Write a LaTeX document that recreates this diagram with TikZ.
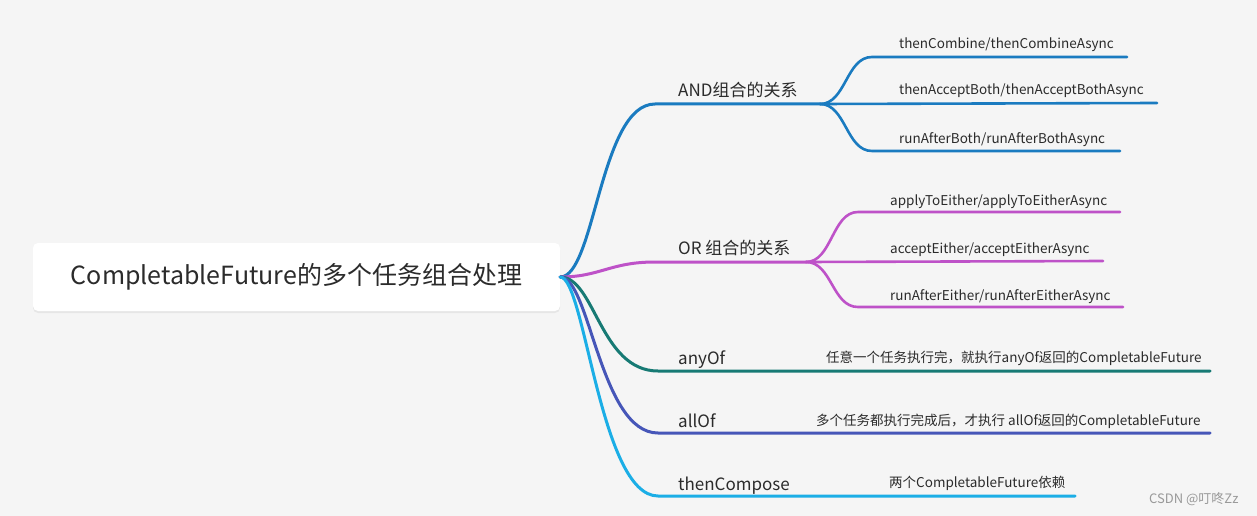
\documentclass[tikz,border=0pt]{standalone}
\usepackage{fontspec}
\setmainfont{Noto Sans CJK SC}
\usetikzlibrary{shadows}
\definecolor{andblue}{HTML}{1A7BC0}
\definecolor{ormag}{HTML}{BE52C8}
\definecolor{anyteal}{HTML}{177A74}
\definecolor{allind}{HTML}{4656B8}
\definecolor{compblue}{HTML}{1BAEE6}
\definecolor{bggray}{HTML}{F5F5F5}
\definecolor{txt}{HTML}{2B2B2B}
\begin{document}
\begin{tikzpicture}[x=1pt,y=-1pt,line cap=round]
\tikzstyle{root}=[fill=white, rounded corners=5pt, minimum width=527pt, minimum height=68pt,
  drop shadow={opacity=0.12, shadow xshift=0pt, shadow yshift=-2pt},
  font=\fontsize{25}{30}\selectfont, text=txt]
\tikzstyle{topic}=[font=\fontsize{17}{20}\selectfont, text=txt, anchor=base west, inner sep=0]
\tikzstyle{leaf}=[font=\fontsize{13.5}{16}\selectfont, text=txt, anchor=base west, inner sep=0]
\tikzstyle{main}=[line width=3pt]
\tikzstyle{sub}=[line width=2.6pt]
\fill[bggray] (0,0) rectangle (1257,516);
\useasboundingbox (0,0) rectangle (1257,516);

\node[root] (root) at (296.5,277) {CompletableFuture的多个任务组合处理};

% AND
\coordinate (andA) at (655,104);
\coordinate (andB) at (820,104);
\node[topic] (and) at (678,97) {AND组合的关系};
\draw[main,andblue] (root.east) .. controls (595,277) and (600,104) .. (andA) -- (andB);
\coordinate (and1) at (872,57);  \coordinate (and1e) at (1127,57);
\coordinate (and2e) at (1157,103);
\coordinate (and3) at (872,151); \coordinate (and3e) at (1120,151);
\draw[sub,andblue] (andB) .. controls (846,104) and (846,57) .. (and1) -- (and1e);
\draw[sub,andblue] (andB) -- (and2e);
\draw[sub,andblue] (andB) .. controls (846,104) and (846,151) .. (and3) -- (and3e);
\node[leaf] (then1) at (899,49) {thenCombine/thenCombineAsync};
\node[leaf] (then2) at (899,95) {thenAcceptBoth/thenAcceptBothAsync};
\node[leaf] (then3) at (899,143) {runAfterBoth/runAfterBothAsync};

% OR
\coordinate (orA) at (655,262);
\coordinate (orB) at (806,262);
\node[topic] (or) at (678,254) {OR 组合的关系};
\draw[main,ormag] (root.east) .. controls (600,277) and (610,262) .. (orA) -- (orB);
\coordinate (or1) at (858,212);  \coordinate (or1e) at (1120,212);
\coordinate (or2e) at (1103,261);
\coordinate (or3) at (858,307);  \coordinate (or3e) at (1123,307);
\draw[sub,ormag] (orB) .. controls (832,262) and (832,212) .. (or1) -- (or1e);
\draw[sub,ormag] (orB) -- (or2e);
\draw[sub,ormag] (orB) .. controls (832,262) and (832,307) .. (or3) -- (or3e);
\node[leaf] (either1) at (890,205) {applyToEither/applyToEitherAsync};
\node[leaf] (either2) at (890,253) {acceptEither/acceptEitherAsync};
\node[leaf] (either3) at (890,300) {runAfterEither/runAfterEitherAsync};

% anyOf, allOf, thenCompose
\coordinate (anyA) at (658,371);  \coordinate (anyB) at (1210,371);
\coordinate (allA) at (658,433);  \coordinate (allB) at (1210,433);
\coordinate (compA) at (658,496); \coordinate (compB) at (1075,496);
\draw[main,anyteal] (root.east) .. controls (595,277) and (600,371) .. (anyA) -- (anyB);
\draw[main,allind] (root.east) .. controls (590,277) and (600,433) .. (allA) -- (allB);
\draw[main,compblue] (root.east) .. controls (585,277) and (600,496) .. (compA) -- (compB);
\node[topic] (anyof) at (678,364) {anyOf};
\node[topic] (allof) at (678,427) {allOf};
\node[topic] (compose) at (678,490) {thenCompose};
\node[leaf] (anydesc) at (826,362) {任意一个任务执行完，就执行anyOf返回的CompletableFuture};
\node[leaf] (alldesc) at (816,425) {多个任务都执行完成后，才执行 allOf返回的CompletableFuture};
\node[leaf] (compdesc) at (889,487) {两个CompletableFuture依赖};

\node[anchor=base west, inner sep=0, text=black!40, font=\fontsize{13}{15}\selectfont] (mark) at (1149,503) {CSDN @叮咚Zz};
\end{tikzpicture}
\end{document}
